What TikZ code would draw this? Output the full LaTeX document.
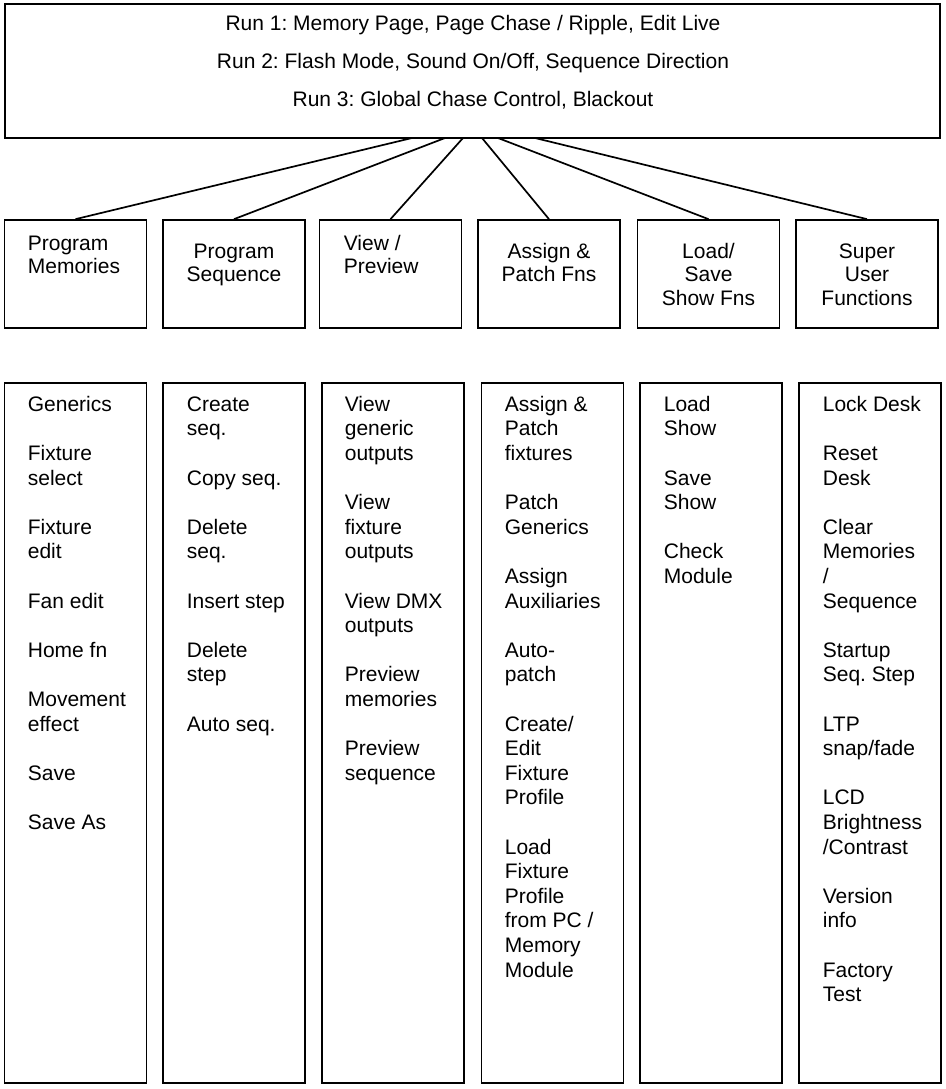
\documentclass[tikz,border=0pt]{standalone}
\usepackage{fontspec}
\setmainfont{Liberation Sans}
\frenchspacing
\usetikzlibrary{positioning}

\begin{document}
\begin{tikzpicture}[x=1pt,y=-1pt,line width=1.7pt,
  runbox/.style={draw,minimum width=935pt,minimum height=134pt},
  fnbox/.style={draw,minimum width=142pt,minimum height=108pt},
  listbox/.style={draw,minimum width=142pt,minimum height=700pt},
  runtext/.style={align=center,inner sep=0pt,anchor=north,font=\fontsize{21}{38}\selectfont},
  fnleft/.style={align=left,inner sep=0pt,anchor=north west,font=\fontsize{21}{23.5}\selectfont},
  fnmid/.style={align=center,inner sep=0pt,anchor=north,font=\fontsize{21}{23.5}\selectfont},
  items/.style={align=left,inner sep=0pt,anchor=north west,font=\fontsize{21}{24.6}\selectfont}]
  \useasboundingbox (0,0) rectangle (945,1089);

  % top box with the run modes
  \node[runbox] (runs) at (472.5,71) {};
  \node[runtext] (runlist) at (473,2.9) {\strut Run 1: Memory Page, Page Chase / Ripple, Edit Live\\
    Run 2: Flash Mode, Sound On/Off, Sequence Direction\\
    Run 3: Global Chase Control, Blackout};

  % function boxes
  \node[fnbox] (pmem) at (75.5,274) {};
  \node[fnbox] (pseq) at (234,274) {};
  \node[fnbox] (view) at (390.5,274) {};
  \node[fnbox] (patch) at (549,274) {};
  \node[fnbox] (show) at (708.5,274) {};
  \node[fnbox] (super) at (867,274) {};
  \node[fnleft] (pmemtxt) at (27,233) {\strut Program\\Memories};
  \node[fnmid] (pseqtxt) at (234,241) {\strut Program\\Sequence};
  \node[fnleft] (viewtxt) at (343,233) {\strut View /\\Preview};
  \node[fnmid] (patchtxt) at (549,241) {\strut Assign \&\\Patch Fns};
  \node[fnmid] (showtxt) at (708.5,241) {\strut Load/\\Save\\Show Fns};
  \node[fnmid] (supertxt) at (867,241) {\strut Super\\User\\Functions};

  % connectors
  \coordinate (r1) at (412,138);
  \coordinate (r2) at (445,138);
  \coordinate (r3) at (463,138);
  \coordinate (r4) at (482,138);
  \coordinate (r5) at (498,138);
  \coordinate (r6) at (535,138);
  \draw (r1) -- (pmem.north);
  \draw (r2) -- (pseq.north);
  \draw (r3) -- (view.north);
  \draw (r4) -- (patch.north);
  \draw (r5) -- (show.north);
  \draw (r6) -- (super.north);

  % lists
  \node[listbox] (lmem) at (75.5,733) {};
  \node[listbox] (lseq) at (234,733) {};
  \node[listbox] (lview) at (393,733) {};
  \node[listbox] (lpatch) at (552.5,733) {};
  \node[listbox] (lshow) at (711,733) {};
  \node[listbox] (lsuper) at (870,733) {};
  \node[items] (mems) at (27,393.3) {\strut Generics\\[24.6pt]
    Fixture\\select\\[24.6pt]
    Fixture\\edit\\[24.6pt]
    Fan edit\\[24.6pt]
    Home fn\\[24.6pt]
    Movement\\effect\\[24.6pt]
    Save\\[24.6pt]
    Save As};
  \node[items] (seqs) at (186,393.3) {\strut Create\\seq.\\[24.6pt]
    Copy seq.\\[24.6pt]
    Delete\\seq.\\[24.6pt]
    Insert step\\[24.6pt]
    Delete\\step\\[24.6pt]
    Auto seq.};
  \node[items] (views) at (344,393.3) {\strut View\\generic\\outputs\\[24.6pt]
    View\\fixture\\outputs\\[24.6pt]
    View DMX\\outputs\\[24.6pt]
    Preview\\memories\\[24.6pt]
    Preview\\sequence};
  \node[items] (patches) at (504,393.3) {\strut Assign \&\\Patch\\fixtures\\[24.6pt]
    Patch\\Generics\\[24.6pt]
    Assign\\Auxiliaries\\[24.6pt]
    Auto-\\patch\\[24.6pt]
    Create/\\Edit\\Fixture\\Profile\\[24.6pt]
    Load\\Fixture\\Profile\\from PC /\\Memory\\Module};
  \node[items] (shows) at (663,393.3) {\strut Load\\Show\\[24.6pt]
    Save\\Show\\[24.6pt]
    Check\\Module};
  \node[items] (supers) at (822,393.3) {\strut Lock Desk\\[24.6pt]
    Reset\\Desk\\[24.6pt]
    Clear\\Memories\\/\\Sequence\\[24.6pt]
    Startup\\Seq. Step\\[24.6pt]
    LTP\\snap/fade\\[24.6pt]
    LCD\\Brightness\\/Contrast\\[24.6pt]
    Version\\info\\[24.6pt]
    Factory\\Test};
\end{tikzpicture}
\end{document}
